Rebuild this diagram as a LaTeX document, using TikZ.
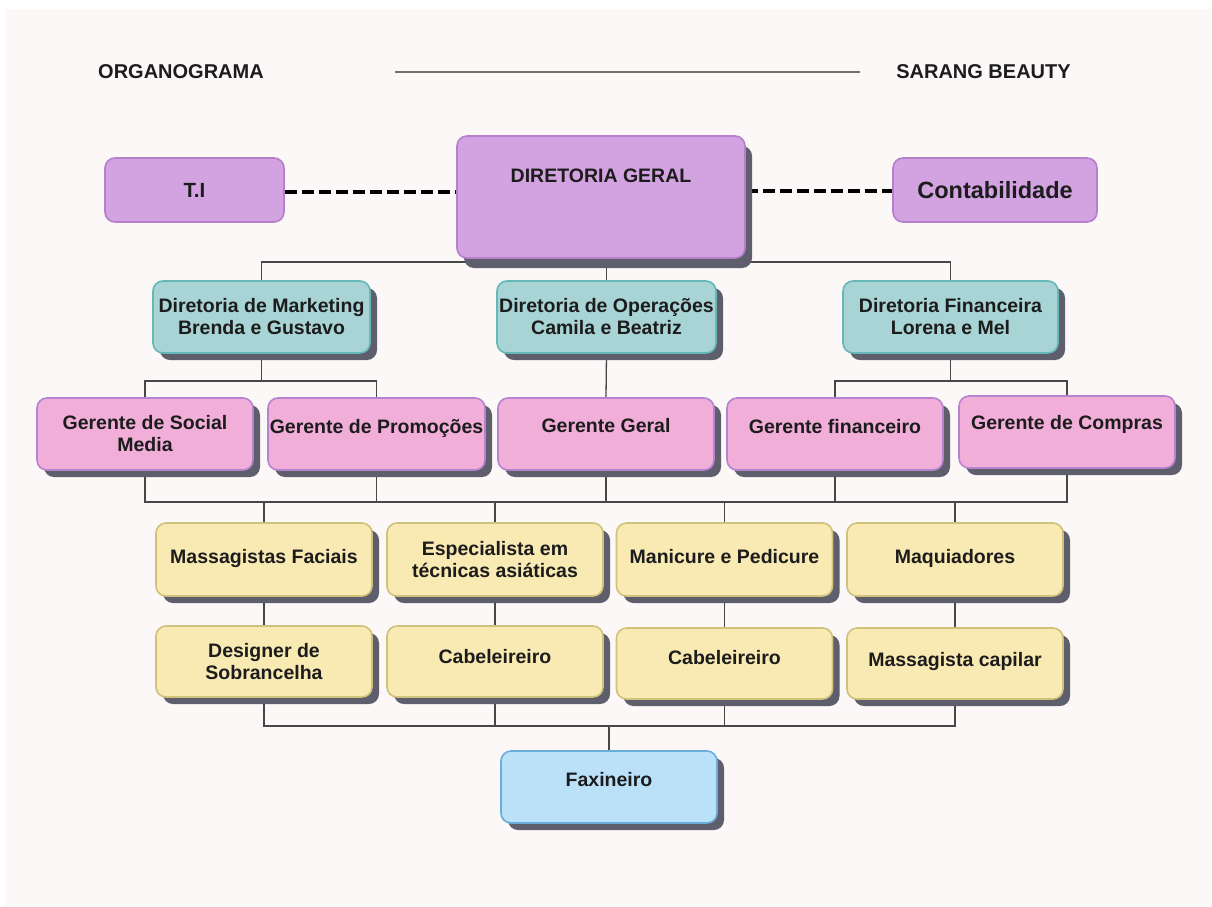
\documentclass[tikz,border=0pt]{standalone}
\usepackage{fontspec}
\setmainfont{Liberation Sans}
\usetikzlibrary{shadows,backgrounds}

\definecolor{bgc}{HTML}{FCF8F7}
\definecolor{purpf}{HTML}{D3A2E1}
\definecolor{purpd}{HTML}{B67FCB}
\definecolor{tealf}{HTML}{A8D4D5}
\definecolor{teald}{HTML}{66B7B8}
\definecolor{pinkf}{HTML}{F0AED8}
\definecolor{pinkd}{HTML}{B583D0}
\definecolor{yelf}{HTML}{F9E9B2}
\definecolor{yeld}{HTML}{CFC27A}
\definecolor{bluef}{HTML}{BAE1F8}
\definecolor{blued}{HTML}{6AADDB}
\definecolor{shadc}{HTML}{5E5E6D}
\definecolor{linec}{HTML}{474747}
\definecolor{rulec}{HTML}{707070}
\definecolor{txtc}{HTML}{1C1C1C}

\begin{document}
\begin{tikzpicture}[x=1pt,y=-1pt,
    card/.style={draw, rounded corners=10pt, line width=1.6pt, minimum width=216pt,
      minimum height=72pt, inner sep=0pt, align=center, text=txtc,
      font=\fontsize{19.5}{22}\selectfont\bfseries},
    shadowed/.style={drop shadow={shadow xshift=7pt,shadow yshift=-#1,fill=shadc,opacity=1}},
    shadowed/.default=7pt,
    purpcard/.style={card, fill=purpf, draw=purpd},
    tealcard/.style={card, fill=tealf, draw=teald, shadowed},
    pinkcard/.style={card, fill=pinkf, draw=pinkd, shadowed},
    yelcard/.style={card, fill=yelf, draw=yeld, shadowed},
    bluecard/.style={card, fill=bluef, draw=blued, shadowed},
    lift/.style={text depth=#1},
    hdr/.style={text=txtc, inner sep=0pt, font=\fontsize{20}{24}\selectfont\bfseries},
    conn/.style={draw=linec, line width=1.3pt},
    dashln/.style={draw=black, line width=3.6pt, dash pattern=on 12pt off 5pt}]

  \useasboundingbox (0,0) rectangle (1212,906);

  % header
  \node[hdr] (org) at (181,72) {ORGANOGRAMA};
  \node[hdr] (brand) at (983.5,72) {SARANG BEAUTY};
  \coordinate (rule-l) at (395,72);
  \coordinate (rule-r) at (860,72);

  % direction
  \node[purpcard, minimum width=179pt, minimum height=64pt,
    font=\fontsize{20.5}{24}\selectfont\bfseries] (ti) at (194.5,190) {T.I};
  \node[purpcard, shadowed=10pt, minimum width=288pt, minimum height=122pt, lift=42pt] (dg) at (601,197) {DIRETORIA GERAL};
  \node[purpcard, minimum width=204pt, minimum height=64pt,
    font=\fontsize{23.5}{26}\selectfont\bfseries] (ct) at (995,190) {Contabilidade};

  % directors
  \node[tealcard, minimum width=217pt] (mk) at (261.5,317) {Diretoria de Marketing\\Brenda e Gustavo};
  \node[tealcard, minimum width=219pt] (op) at (606.5,317) {Diretoria de Operações\\Camila e Beatriz};
  \node[tealcard, minimum width=215pt] (fi) at (950.5,317) {Diretoria Financeira\\Lorena e Mel};

  % managers
  \node[pinkcard] (sm) at (145,434) {Gerente de Social\\Media};
  \node[pinkcard, minimum width=217pt, lift=16pt] (pr) at (376.5,434) {Gerente de Promoções};
  \node[pinkcard, lift=18pt] (gg) at (606,434) {Gerente Geral};
  \node[pinkcard, lift=16pt] (gf) at (835,434) {Gerente financeiro};
  \node[pinkcard, lift=20pt] (gc) at (1067,432) {Gerente de Compras};

  % staff
  \node[yelcard, minimum height=73pt, lift=7pt] (mf) at (264,559.5) {Massagistas Faciais};
  \node[yelcard, minimum height=73pt] (es) at (495,559.5) {Especialista em\\técnicas asiáticas};
  \node[yelcard, minimum height=73pt, lift=7pt] (mp) at (724.5,559.5) {Manicure e Pedicure};
  \node[yelcard, minimum height=73pt, lift=7pt] (mq) at (955,559.5) {Maquiadores};
  \node[yelcard, minimum height=71pt] (ds) at (264,661.5) {Designer de\\Sobrancelha};
  \node[yelcard, minimum height=71pt, lift=11pt] (c1) at (495,661.5) {Cabeleireiro};
  \node[yelcard, minimum height=71pt, lift=13pt] (c2) at (724.5,663.5) {Cabeleireiro};
  \node[yelcard, minimum height=71pt, lift=9pt] (mc) at (955,663.5) {Massagista capilar};

  % cleaning
  \node[bluecard, lift=16pt] (fx) at (609,787) {Faxineiro};

  \coordinate (bus1) at (0,262);
  \coordinate (bus2) at (0,381);
  \coordinate (bus3) at (0,502);
  \coordinate (bus4) at (0,726);

  \begin{scope}[on background layer]
    \fill[white] (0,0) rectangle (1212,906);
    \fill[bgc] (5,9) rectangle (1212,906);
    \draw[draw=rulec, line width=2pt] (rule-l) -- (rule-r);

    \draw[dashln] ([yshift=-2pt]ti.east) -- ([yshift=-2pt]ti.east -| dg.west);
    \draw[dashln] ([yshift=-1pt]ct.west -| dg.east) -- ([yshift=-1pt]ct.west);

    \draw[conn] (dg.south -| op.north) -- (op.north);
    \draw[conn] (mk.north) |- (bus1 -| fi.north) -- (fi.north);

    \draw[conn] (mk.south) -- (mk.south |- bus2);
    \draw[conn] (sm.north) |- (bus2 -| pr.north) -- (pr.north);
    \draw[conn] (op.south) -- (gg.north);
    \draw[conn] (fi.south) -- (fi.south |- bus2);
    \draw[conn] (gf.north) |- (bus2 -| gc.north) -- (gc.north);

    \draw[conn] (sm.south) |- (bus3 -| gc.south) -- (gc.south);
    \foreach \n in {pr,gg,gf}
      \draw[conn] (\n.south) -- (\n.south |- bus3);
    \foreach \n in {mf,es,mp,mq}
      \draw[conn] (\n.north) -- (\n.north |- bus3);

    \draw[conn] (mf.south) -- (ds.north);
    \draw[conn] (es.south) -- (c1.north);
    \draw[conn] (mp.south) -- (c2.north);
    \draw[conn] (mq.south) -- (mc.north);

    \draw[conn] (ds.south) |- (bus4 -| mc.south) -- (mc.south);
    \foreach \n in {c1,c2}
      \draw[conn] (\n.south) -- (\n.south |- bus4);
    \draw[conn] (fx.north) -- (fx.north |- bus4);
  \end{scope}

\end{tikzpicture}
\end{document}
